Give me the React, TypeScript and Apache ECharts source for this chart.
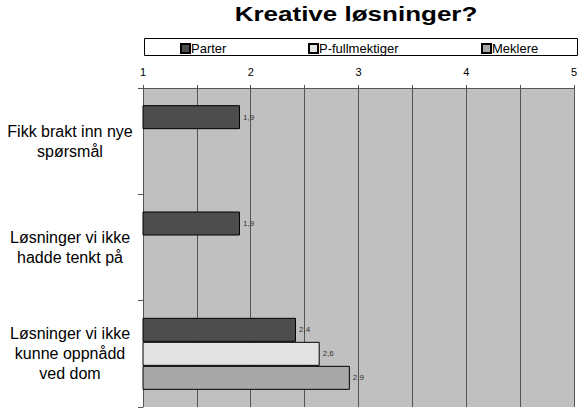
import React, { useEffect, useRef } from "react";
import * as echarts from "echarts";

const categories = [
  "Fikk brakt inn nye\nspørsmål",
  "Løsninger vi ikke\nhadde tenkt på",
  "Løsninger vi ikke\nkunne oppnådd\nved dom",
];
const seriesNames = ["Parter", "P-fullmektiger", "Meklere"];
const parter = [1.9, 1.9, 2.42];
const pFullmektiger = [null, null, 2.64];
const meklere = [null, null, 2.92];
const colors = ["#4d4d4d", "#e4e4e4", "#a8a8a8"];
const legendLefts = [180, 308, 481];

export default function App() {
  const ref = useRef<HTMLDivElement>(null);
  useEffect(() => {
    if (!ref.current) return;
    const chart = echarts.init(ref.current, undefined, { renderer: "svg" });
    const font = "Liberation Sans, Arial, sans-serif";
    const values = [parter, pFullmektiger, meklere];
    chart.setOption({
      animation: false,
      textStyle: { fontFamily: font },
      graphic: [
        {
          type: "text",
          x: 356,
          y: 14,
          scaleX: 1.3,
          scaleY: 1,
          style: {
            text: "Kreative løsninger?",
            font: "bold 20px Liberation Sans, Arial, sans-serif",
            fill: "#000",
            textAlign: "center",
            textVerticalAlign: "middle",
          },
          z: 10,
        },
        {
          type: "rect",
          shape: { x: 144.5, y: 38.5, width: 433, height: 17 },
          style: { fill: "#fff", stroke: "#000", lineWidth: 1 },
          z: 0,
        },
      ],
      legend: seriesNames.map((name, i) => ({
        data: [name],
        left: legendLefts[i],
        top: 42,
        itemWidth: 9,
        itemHeight: 9,
        icon: "rect",
        padding: 0,
        z: 5,
        textStyle: { fontSize: 13, color: "#000", fontFamily: font, padding: [0, 0, 0, -4] },
      })),
      grid: {
        left: 143,
        right: 3,
        top: 88,
        bottom: 1,
        show: true,
        backgroundColor: "#c0c0c0",
        borderWidth: 0,
      },
      xAxis: {
        type: "value",
        position: "top",
        min: 1,
        max: 5,
        interval: 0.5,
        axisLine: { show: true, lineStyle: { color: "#555", width: 1 } },
        axisTick: { show: true, length: 3, lineStyle: { color: "#555" } },
        axisLabel: {
          formatter: (v: number) => (Number.isInteger(v) ? String(v) : ""),
          fontSize: 11,
          color: "#000",
          margin: 11,
          fontFamily: font,
        },
        splitLine: { show: true, lineStyle: { color: "#555", width: 1 } },
      },
      yAxis: {
        type: "category",
        inverse: true,
        data: categories,
        axisLine: { show: true, lineStyle: { color: "#555", width: 1 } },
        axisTick: { show: true, length: 5, lineStyle: { color: "#555" } },
        axisLabel: {
          align: "center",
          margin: 73,
          fontSize: 16,
          lineHeight: 20,
          color: "#000",
          fontFamily: font,
        },
        splitLine: { show: false },
      },
      series: seriesNames.map((name, i) => ({
        name,
        type: "bar",
        data: values[i],
        barWidth: 24,
        barGap: "0%",
        itemStyle: { color: colors[i], borderColor: "#000", borderWidth: 1 },
        label: {
          show: true,
          position: "right",
          distance: 3,
          fontSize: 8,
          color: "#333",
          fontFamily: font,
          formatter: (p: any) => Number(p.value).toFixed(1).replace(".", ","),
        },
      })),
    });
    return () => chart.dispose();
  }, []);
  return (
    <div
      ref={ref}
      style={{ position: "fixed", left: 0, top: 0, width: 580, height: 408, background: "#fff" }}
    />
  );
}
